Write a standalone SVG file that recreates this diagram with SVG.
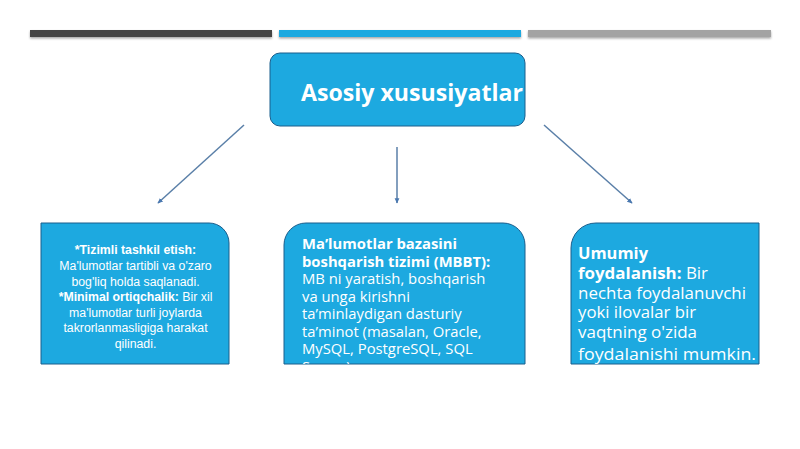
<svg xmlns="http://www.w3.org/2000/svg" width="800" height="449" viewBox="0 0 800 449">
<style>
.box{fill:#1DA9E0;stroke:#1B5E8C;stroke-width:1}
.t{fill:#ffffff}
.b{font-weight:bold}
.conn{stroke:#5A7FA8;stroke-width:1.5;fill:none;marker-end:url(#ah)}
</style>
<defs>
<marker id="ah" viewBox="0 0 10 10" refX="8" refY="5" markerWidth="4" markerHeight="4" orient="auto">
<path d="M0,1 L9,5 L0,9 z" fill="#4A78B0"/>
</marker>
<filter id="sh" x="-5%" y="-50%" width="110%" height="250%">
<feDropShadow dx="0" dy="1.5" stdDeviation="1" flood-color="#000" flood-opacity="0.35"/>
</filter>
<clipPath id="cm"><rect x="284" y="223" width="241" height="141"/></clipPath>
<clipPath id="cr"><rect x="571" y="223" width="188" height="141"/></clipPath>
<clipPath id="ct"><rect x="270" y="53" width="255" height="73" rx="10"/></clipPath>
</defs>
<rect width="800" height="449" fill="#ffffff"/>
<g id="bars" filter="url(#sh)">
<rect x="30" y="30" width="242" height="7" fill="#454545"/>
<rect x="279" y="30" width="242" height="7" fill="#1DA9E0"/>
<rect x="528" y="30" width="243" height="7" fill="#A3A3A3"/>
</g>
<g id="connectors">
<line class="conn" x1="244" y1="125" x2="158" y2="203"/>
<line class="conn" x1="397" y1="147" x2="397" y2="203"/>
<line class="conn" x1="544" y1="125" x2="632" y2="203"/>
</g>
<g id="node-top">
<rect class="box" x="270" y="53" width="255" height="73" rx="10"/>
<text class="t b" x="301" y="101" clip-path="url(#ct)" font-family="'Open Sans', sans-serif" font-size="23" textLength="222" lengthAdjust="spacingAndGlyphs">Asosiy xususiyatlar</text>
</g>
<g id="node-left">
<path class="box" d="M41,223 H209 A20,20 0 0 1 229,243 V364 H41 Z"/>
<g font-family="'Liberation Sans', Arial, sans-serif" font-size="12.3" text-anchor="middle" class="t">
<text x="135.5" y="254" class="b">*Tizimli tashkil etish:</text>
<text x="135.5" y="270">Ma'lumotlar tartibli va o'zaro</text>
<text x="135.5" y="286">bog'liq holda saqlanadi.</text>
<text x="135.5" y="301"><tspan class="b">*Minimal ortiqchalik:</tspan> Bir xil</text>
<text x="135.5" y="317">ma'lumotlar turli joylarda</text>
<text x="135.5" y="332">takrorlanmasligiga harakat</text>
<text x="135.5" y="348">qilinadi.</text>
</g>
</g>
<g id="node-middle">
<path class="box" d="M284,364 V245 A22,22 0 0 1 306,223 H503 A22,22 0 0 1 525,245 V364 Z"/>
<g font-family="'Open Sans', sans-serif" font-size="14.8" class="t" clip-path="url(#cm)">
<text x="302" y="249" class="b">Ma’lumotlar bazasini</text>
<text x="302" y="266.5" class="b">boshqarish tizimi (MBBT):</text>
<text x="302" y="284">MB ni yaratish, boshqarish</text>
<text x="302" y="301.5">va unga kirishni</text>
<text x="302" y="319">ta’minlaydigan dasturiy</text>
<text x="302" y="336.5">ta’minot (masalan, Oracle,</text>
<text x="302" y="354">MySQL, PostgreSQL, SQL</text>
<text x="302" y="371.5">Server).</text>
</g>
</g>
<g id="node-right">
<path class="box" d="M571,364 V248 A25,25 0 0 1 596,223 H759 V364 Z"/>
<g font-family="'Open Sans', sans-serif" font-size="15.5" class="t" clip-path="url(#cr)">
<text x="578" y="259" class="b" textLength="70" lengthAdjust="spacingAndGlyphs">Umumiy</text>
<text x="578" y="278.5" textLength="130" lengthAdjust="spacingAndGlyphs"><tspan class="b">foydalanish:</tspan> Bir</text>
<text x="578" y="298.5" textLength="168" lengthAdjust="spacingAndGlyphs">nechta foydalanuvchi</text>
<text x="578" y="318" textLength="118" lengthAdjust="spacingAndGlyphs">yoki ilovalar bir</text>
<text x="578" y="338" textLength="119" lengthAdjust="spacingAndGlyphs">vaqtning o'zida</text>
<text x="578" y="360" textLength="178" lengthAdjust="spacingAndGlyphs">foydalanishi mumkin.</text>
</g>
</g>
</svg>
